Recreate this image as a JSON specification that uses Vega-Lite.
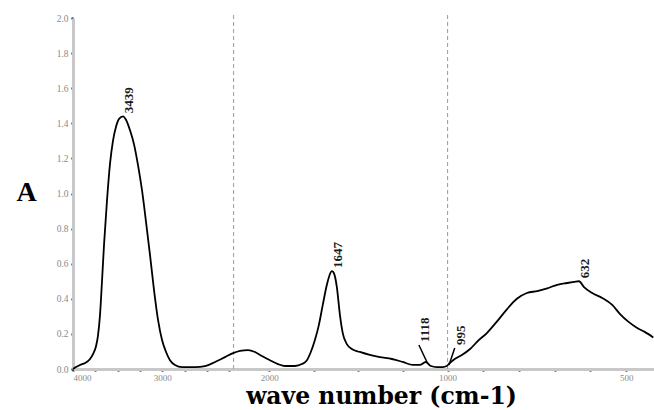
{
  "$schema": "https://vega.github.io/schema/vega-lite/v6.json",
  "width": 581,
  "height": 351,
  "autosize": {"type": "none"},
  "padding": {"left": 73, "top": 18, "right": 0, "bottom": 41},
  "background": "white",
  "config": {"view": {"stroke": null}},
  "datasets": {
    "spectrum": [
      {"wn": 4000, "a": 0.0}, {"wn": 3966, "a": 0.011}, {"wn": 3922, "a": 0.023}, {"wn": 3865, "a": 0.034},
      {"wn": 3809, "a": 0.057}, {"wn": 3776, "a": 0.085}, {"wn": 3742, "a": 0.13}, {"wn": 3720, "a": 0.19},
      {"wn": 3697, "a": 0.31}, {"wn": 3675, "a": 0.5}, {"wn": 3652, "a": 0.71}, {"wn": 3619, "a": 0.96},
      {"wn": 3585, "a": 1.17}, {"wn": 3552, "a": 1.3}, {"wn": 3518, "a": 1.38}, {"wn": 3484, "a": 1.425},
      {"wn": 3439, "a": 1.44}, {"wn": 3406, "a": 1.42}, {"wn": 3361, "a": 1.36}, {"wn": 3316, "a": 1.28},
      {"wn": 3271, "a": 1.16}, {"wn": 3227, "a": 1.02}, {"wn": 3182, "a": 0.84}, {"wn": 3137, "a": 0.65},
      {"wn": 3092, "a": 0.45}, {"wn": 3047, "a": 0.28}, {"wn": 3002, "a": 0.165}, {"wn": 2957, "a": 0.097},
      {"wn": 2913, "a": 0.05}, {"wn": 2857, "a": 0.023}, {"wn": 2778, "a": 0.011}, {"wn": 2632, "a": 0.011},
      {"wn": 2520, "a": 0.017}, {"wn": 2408, "a": 0.04}, {"wn": 2296, "a": 0.068}, {"wn": 2206, "a": 0.09},
      {"wn": 2164, "a": 0.103}, {"wn": 2119, "a": 0.108}, {"wn": 2080, "a": 0.097}, {"wn": 2041, "a": 0.074},
      {"wn": 1996, "a": 0.05}, {"wn": 1951, "a": 0.028}, {"wn": 1912, "a": 0.017}, {"wn": 1856, "a": 0.017},
      {"wn": 1817, "a": 0.028}, {"wn": 1789, "a": 0.05}, {"wn": 1767, "a": 0.097}, {"wn": 1744, "a": 0.165},
      {"wn": 1722, "a": 0.25}, {"wn": 1700, "a": 0.365}, {"wn": 1677, "a": 0.48}, {"wn": 1660, "a": 0.54},
      {"wn": 1649, "a": 0.558}, {"wn": 1638, "a": 0.547}, {"wn": 1621, "a": 0.467}, {"wn": 1604, "a": 0.31},
      {"wn": 1587, "a": 0.2}, {"wn": 1565, "a": 0.142}, {"wn": 1537, "a": 0.114}, {"wn": 1492, "a": 0.097},
      {"wn": 1436, "a": 0.08}, {"wn": 1380, "a": 0.068}, {"wn": 1312, "a": 0.057}, {"wn": 1251, "a": 0.04},
      {"wn": 1195, "a": 0.023}, {"wn": 1156, "a": 0.023}, {"wn": 1122, "a": 0.04}, {"wn": 1094, "a": 0.017},
      {"wn": 1061, "a": 0.011}, {"wn": 1027, "a": 0.011}, {"wn": 1005, "a": 0.017}, {"wn": 994, "a": 0.034},
      {"wn": 980, "a": 0.057}, {"wn": 960, "a": 0.08}, {"wn": 937, "a": 0.114}, {"wn": 915, "a": 0.16},
      {"wn": 890, "a": 0.205}, {"wn": 862, "a": 0.27}, {"wn": 834, "a": 0.34}, {"wn": 806, "a": 0.4},
      {"wn": 778, "a": 0.433}, {"wn": 749, "a": 0.444}, {"wn": 721, "a": 0.46}, {"wn": 693, "a": 0.48},
      {"wn": 665, "a": 0.49}, {"wn": 646, "a": 0.496}, {"wn": 632, "a": 0.5}, {"wn": 618, "a": 0.467},
      {"wn": 595, "a": 0.433}, {"wn": 567, "a": 0.405}, {"wn": 539, "a": 0.365}, {"wn": 517, "a": 0.313},
      {"wn": 494, "a": 0.27}, {"wn": 469, "a": 0.234}, {"wn": 447, "a": 0.21}, {"wn": 424, "a": 0.18}
    ],
    "labels": [
      {"label": "3439", "wn": 3439, "a": 1.44},
      {"label": "1647", "wn": 1649, "a": 0.558},
      {"label": "1118", "wn": 1161, "a": 0.137},
      {"label": "995", "wn": 980, "a": 0.12},
      {"label": "632", "wn": 632, "a": 0.5}
    ],
    "leaders": [
      {"wn": 1161, "a": 0.137, "wn2": 1116, "a2": 0.04},
      {"wn": 996, "a": 0.023, "wn2": 980, "a2": 0.12}
    ],
    "guides": [{"wn": 2200, "a": 0, "wn2": 2200, "a2": 2.02}, {"wn": 1000, "a": 0, "wn2": 1000, "a2": 2.02}]
  },
  "encoding": {
    "x": {
      "field": "wn", "type": "quantitative",
      "scale": {"domain": [4000, 2200, 1000, 422], "range": [0, 160.6, 374.6, 581], "nice": false, "zero": false},
      "axis": {
        "title": "wave number (cm-1)",
        "titleFont": "DejaVu Serif", "titleFontSize": 23.5, "titleFontWeight": "bold", "titleColor": "black",
        "titleX": 308, "titleY": 34, "titleAlign": "center", "titleBaseline": "alphabetic", "titleAnchor": null,
        "values": [4000, 3750, 3500, 3250, 3000, 2750, 2500, 2250, 2000, 1750, 1500, 1250, 1000, 900, 800, 700, 600, 500],
        "format": "d",
        "labelExpr": "indexof([4000, 3000, 2000, 1000, 500], datum.value) >= 0 ? datum.label : ''",
        "labelFont": "Liberation Serif", "labelFontSize": 9, "labelColor": "#8a8a8a", "labelPadding": 2,
        "labelOverlap": false,
        "domainColor": "#c8c8c8", "domainWidth": 3,
        "tickColor": "black", "tickSize": 2, "tickWidth": 2,
        "grid": false
      }
    },
    "y": {
      "field": "a", "type": "quantitative",
      "scale": {"domain": [0, 2], "nice": false, "zero": false},
      "axis": {
        "title": "A",
        "titleFont": "Liberation Serif", "titleFontSize": 28, "titleFontWeight": "bold", "titleColor": "black",
        "titleAngle": 0, "titleX": -47, "titleY": 182, "titleAlign": "center", "titleBaseline": "alphabetic", "titleAnchor": null,
        "values": [0, 0.2, 0.4, 0.6, 0.8, 1.0, 1.2, 1.4, 1.6, 1.8, 2.0],
        "format": ".1f",
        "labelFont": "Liberation Serif", "labelFontSize": 9.5, "labelColor": "#8a8a8a", "labelPadding": 3,
        "labelOverlap": false,
        "domainColor": "#c8c8c8", "domainWidth": 3,
        "tickColor": "black", "tickSize": 2, "tickWidth": 2,
        "grid": false
      }
    }
  },
  "layer": [
    {
      "data": {"name": "guides"},
      "mark": {"type": "rule", "color": "#9a9a9a", "strokeWidth": 1, "strokeDash": [4, 3]},
      "encoding": {
        "y2": {"field": "a2"}
      }
    },
    {
      "data": {"name": "spectrum"},
      "mark": {"type": "line", "color": "black", "strokeWidth": 1.8, "interpolate": "monotone"},
      "encoding": {}
    },
    {
      "data": {"name": "leaders"},
      "mark": {"type": "rule", "color": "black", "strokeWidth": 1.5},
      "encoding": {
        "x2": {"field": "wn2"},
        "y2": {"field": "a2"}
      }
    },
    {
      "data": {"name": "labels"},
      "mark": {"type": "text", "angle": 270, "align": "left", "baseline": "middle", "dx": 3, "dy": 6,
               "font": "Liberation Serif", "fontSize": 13, "fontWeight": "bold", "color": "#1a1a1a"},
      "encoding": {
        "text": {"field": "label"}
      }
    }
  ]
}
